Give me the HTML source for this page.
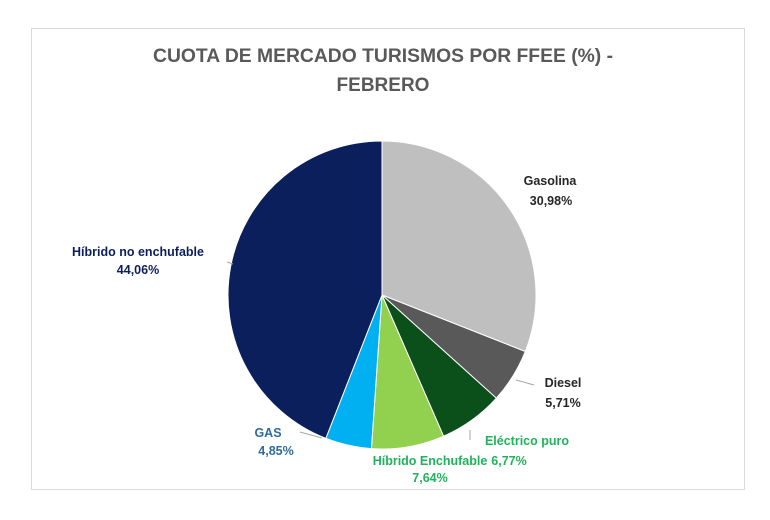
<!DOCTYPE html>
<html><head><meta charset="utf-8"><style>
body{margin:0;width:770px;height:520px;background:#fff;overflow:hidden;font-family:"Liberation Sans",sans-serif}
#frame{position:absolute;left:31px;top:28px;width:714px;height:462px;border:1px solid #d9d9d9;box-sizing:border-box}
</style></head><body>
<div id="frame"></div>
<svg width="770" height="520" style="position:absolute;left:0;top:0">
<text x="383" y="62" text-anchor="middle" font-size="19" font-weight="bold" fill="#595959" textLength="460" lengthAdjust="spacingAndGlyphs">CUOTA DE MERCADO TURISMOS POR FFEE (%)  -</text>
<text x="383" y="91" text-anchor="middle" font-size="19" font-weight="bold" fill="#595959">FEBRERO</text>
<g id="slices"></g>
<g stroke="#a6a6a6" stroke-width="1" fill="none">
<path d="M227,262 L233,264"/><path d="M322,438 L300,432"/><path d="M516,380 L534,385"/><path d="M470,430 L470,440"/>
</g>
<g id="labels" font-size="12.5" font-weight="bold"></g>
</svg>
<script>
const categories=["Gasolina","Diesel","Eléctrico puro","Híbrido Enchufable","GAS","Híbrido no enchufable"];
const values=[30.98,5.71,6.77,7.64,4.85,44.06];
const valueLabels=["30,98%","5,71%","6,77%","7,64%","4,85%","44,06%"];
const colors=["#bfbfbf","#595959","#0b4f1a","#92d050","#00b0f0","#0b1f5c"];
const labelColors=["#262626","#262626","#1fb35a","#1fb35a","#2e6b9e","#0b1f5c"];
const cx=382,cy=295,r=154;
const NS="http://www.w3.org/2000/svg";
const total=values.reduce((a,b)=>a+b,0);
const sg=document.getElementById("slices"),lg=document.getElementById("labels");
// label anchor positions (layout only)
const lpos=[[550,185,551,205],[563,387,563,407],[527,445,509,465],[430,465,430,482],[268,437,276,455],[138,256,138,274]];
let a=0;
values.forEach((v,i)=>{
  const a0=a, a1=a+v/total*2*Math.PI; a=a1;
  const p=t=>[cx+r*Math.sin(t),cy-r*Math.cos(t)];
  const [x0,y0]=p(a0),[x1,y1]=p(a1);
  const path=document.createElementNS(NS,"path");
  path.setAttribute("d",`M${cx},${cy}L${x0},${y0}A${r},${r} 0 ${a1-a0>Math.PI?1:0} 1 ${x1},${y1}Z`);
  path.setAttribute("fill",colors[i]);
  path.setAttribute("stroke","#fff");
  path.setAttribute("stroke-width","1");
  
  
  sg.appendChild(path);
  const L=lpos[i];
  const t=document.createElementNS(NS,"text");
  t.setAttribute("text-anchor","middle");
  t.setAttribute("fill",labelColors[i]);
  
  
  const s1=document.createElementNS(NS,"tspan");s1.setAttribute("x",L[0]);s1.setAttribute("y",L[1]);s1.textContent=categories[i];
  const s2=document.createElementNS(NS,"tspan");s2.setAttribute("x",L[2]);s2.setAttribute("y",L[3]);s2.textContent=valueLabels[i];
  t.appendChild(s1);t.appendChild(s2);lg.appendChild(t);
});
</script>
</body></html>
